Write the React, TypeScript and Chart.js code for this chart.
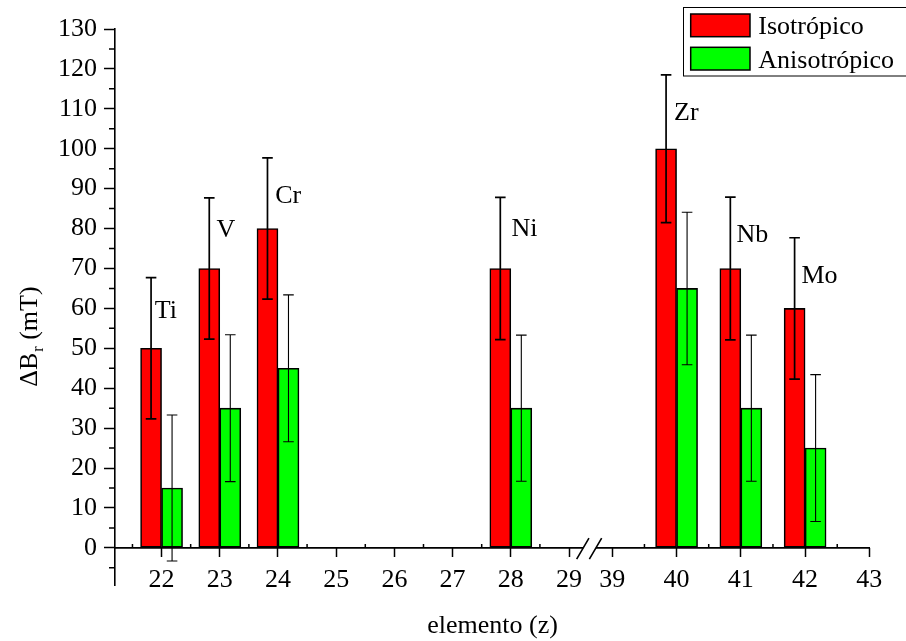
import React, { useEffect, useRef } from 'react';
import { Chart, registerables } from 'chart.js';

Chart.register(...registerables);

// ---------- data ----------
const elementNames = ['Ti', 'V', 'Cr', 'Ni', 'Zr', 'Nb', 'Mo'];
const atomicNumbers = [22, 23, 24, 28, 40, 41, 42];
const isotropic = [50, 70, 80, 70, 100, 70, 60];
const isotropicErr = [17.7, 17.7, 17.7, 17.8, 18.5, 17.9, 17.7];
const anisotropic = [15, 35, 45, 35, 65, 35, 25];
const anisotropicErr = [18.3, 18.4, 18.4, 18.3, 19.1, 18.3, 18.4];
const seriesNames = ['Isotrópico', 'Anisotrópico'];
const seriesColors = ['#ff0000', '#00ff00'];
// element-name annotations, anchored in data units (z, ΔBr)
const labelAtZ = [21.885, 22.943, 23.952, 28.01, 39.96, 40.932, 41.943];
const labelAtY = [57.7, 77.8, 86.4, 78.1, 107.1, 76.7, 66.3];
// axes
const xTickValues = [22, 23, 24, 25, 26, 27, 28, 29, 39, 40, 41, 42, 43];
const xMinorTicks = [21.5, 22.5, 23.5, 24.5, 25.5, 26.5, 27.5, 28.5, 39.5, 40.5, 41.5, 42.5];
const yTickValues = [0, 10, 20, 30, 40, 50, 60, 70, 80, 90, 100, 110, 120, 130];
const yMinorTicks = [-5, 5, 15, 25, 35, 45, 55, 65, 75, 85, 95, 105, 115, 125];
const X_MIN = 21.2;
const X_MAX = 43.01;
const Y_MIN = -9.3;
const Y_MAX = 130;
const xTitle = 'elemento (z)';

// ---------- broken x axis (29 // 39) ----------
const BREAK_LEFT = 29;
const BREAK_RIGHT = 39;
const BREAK_GAP = 0.744;
const RIGHT_STRETCH = 1.104;
const toAxis = (z: number) =>
  z <= BREAK_LEFT + 0.5 ? z : BREAK_LEFT + BREAK_GAP + (z - BREAK_RIGHT) * RIGHT_STRETCH;

const FONT = "'Liberation Serif', 'Times New Roman', serif";

const errorBarPlugin = {
  id: 'errorBars',
  afterDatasetsDraw(chart: any) {
    const { ctx } = chart;
    const yScale = chart.scales.y;
    const errSets = [isotropicErr, anisotropicErr];
    const valSets = [isotropic, anisotropic];
    const widths = [1.7, 1.1];
    ctx.save();
    ctx.strokeStyle = '#000';
    for (let d = 0; d < 2; d++) {
      const meta = chart.getDatasetMeta(d);
      ctx.lineWidth = widths[d];
      meta.data.forEach((bar: any, j: number) => {
        const v = valSets[d][j];
        const e = errSets[d][j];
        const top = yScale.getPixelForValue(v + e);
        const bot = yScale.getPixelForValue(v - e);
        const x = bar.x;
        ctx.beginPath();
        ctx.moveTo(x, top);
        ctx.lineTo(x, bot);
        ctx.moveTo(x - 5.3, top);
        ctx.lineTo(x + 5.3, top);
        ctx.moveTo(x - 5.3, bot);
        ctx.lineTo(x + 5.3, bot);
        ctx.stroke();
      });
    }
    // element labels
    const xScale = chart.scales.x;
    ctx.fillStyle = '#000';
    ctx.font = `26px ${FONT}`;
    ctx.textAlign = 'left';
    ctx.textBaseline = 'alphabetic';
    elementNames.forEach((name, i) => {
      ctx.fillText(name, xScale.getPixelForValue(toAxis(labelAtZ[i])), yScale.getPixelForValue(labelAtY[i]));
    });
    ctx.restore();
  },
};

const axisPlugin = {
  id: 'brokenAxis',
  afterDatasetsDraw(chart: any) {
    const { ctx, chartArea } = chart;
    const xs = chart.scales.x;
    const ys = chart.scales.y;
    const y0 = ys.getPixelForValue(0);
    const xl = xs.getPixelForValue(toAxis(BREAK_LEFT));
    const xr = xs.getPixelForValue(toAxis(BREAK_RIGHT));
    const mid = (xl + xr) / 2;
    ctx.save();
    ctx.strokeStyle = '#000';
    ctx.lineWidth = 1.6;
    ctx.beginPath();
    ctx.moveTo(chartArea.left, y0);
    ctx.lineTo(mid - 7.4, y0);
    ctx.moveTo(mid + 5.3, y0);
    ctx.lineTo(chartArea.right, y0);
    ctx.stroke();
    // break slashes
    ctx.lineWidth = 1.6;
    ctx.beginPath();
    ctx.moveTo(mid - 14, y0 + 11.3);
    ctx.lineTo(mid - 1.7, y0 - 9.7);
    ctx.moveTo(mid - 1.3, y0 + 11.3);
    ctx.lineTo(mid + 11, y0 - 9.7);
    ctx.stroke();
    // minor ticks
    ctx.lineWidth = 1.5;
    ctx.beginPath();
    xMinorTicks.forEach((z) => {
      const px = xs.getPixelForValue(toAxis(z));
      ctx.moveTo(px, y0);
      ctx.lineTo(px, y0 - 4);
    });
    yMinorTicks.forEach((v) => {
      const py = ys.getPixelForValue(v);
      ctx.moveTo(chartArea.left - 6, py);
      ctx.lineTo(chartArea.left, py);
    });
    ctx.stroke();
    ctx.restore();
  },
};

const titlesLegendPlugin = {
  id: 'titlesLegend',
  afterDraw(chart: any) {
    const { ctx, chartArea } = chart;
    ctx.save();
    ctx.fillStyle = '#000';
    // x title
    ctx.font = `26px ${FONT}`;
    ctx.textAlign = 'center';
    ctx.textBaseline = 'alphabetic';
    ctx.fillText(xTitle, (chartArea.left + chartArea.right) / 2, 632.7);
    // y title with subscript
    ctx.save();
    ctx.translate(36.7, 386.7);
    ctx.rotate(-Math.PI / 2);
    ctx.textAlign = 'left';
    ctx.font = `26px ${FONT}`;
    ctx.fillText('ΔB', 0, 0);
    let w = ctx.measureText('ΔB').width;
    ctx.font = `16px ${FONT}`;
    ctx.fillText('r', w + 1, 6.3);
    w += ctx.measureText('r').width + 1;
    ctx.font = `26px ${FONT}`;
    ctx.fillText(' (mT)', w, 0);
    ctx.restore();
    // legend
    ctx.lineWidth = 1;
    ctx.strokeStyle = '#000';
    ctx.fillStyle = '#fff';
    ctx.strokeRect(683.5, 7.5, 240, 68.5);
    const rows = [14, 47.3];
    const baselines = [34.3, 67.7];
    chart.data.datasets.forEach((ds: any, i: number) => {
      ctx.fillStyle = ds.backgroundColor;
      ctx.fillRect(690.7, rows[i], 59.3, 22.7);
      ctx.lineWidth = 1.5;
      ctx.strokeRect(690.7, rows[i], 59.3, 22.7);
      ctx.fillStyle = '#000';
      ctx.font = `26px ${FONT}`;
      ctx.textAlign = 'left';
      ctx.fillText(ds.label, 758.3, baselines[i]);
    });
    ctx.restore();
  },
};

export default function App() {
  const canvasRef = useRef<HTMLCanvasElement | null>(null);

  useEffect(() => {
    if (!canvasRef.current) return;
    const tickFont = { family: FONT, size: 26 };
    const chart = new Chart(canvasRef.current, {
      type: 'bar',
      data: {
        datasets: [isotropic, anisotropic].map((vals, d) => ({
          label: seriesNames[d],
          data: atomicNumbers.map((z, i) => ({ x: toAxis(z), y: vals[i] })),
          backgroundColor: seriesColors[d],
          borderColor: '#000',
          borderWidth: 1.6,
          borderSkipped: false,
          barThickness: 21,
        })),
      },
      options: {
        responsive: false,
        animation: false,
        devicePixelRatio: 1,
        layout: { padding: { top: 29, right: 36, bottom: 56, left: 0 } },
        plugins: { legend: { display: false }, tooltip: { enabled: false }, title: { display: false } },
        scales: {
          x: {
            type: 'linear',
            min: toAxis(X_MIN),
            max: toAxis(X_MAX),
            offset: false,
            position: { y: 0 },
            grid: {
              display: true,
              drawOnChartArea: false,
              drawTicks: true,
              tickLength: 9,
              tickWidth: 1.5,
              tickColor: '#000',
              offset: false,
            },
            border: { display: false },
            ticks: {
              font: tickFont,
              color: '#000',
              padding: 8,
              autoSkip: false,
              maxRotation: 0,
              callback: (_v: any, i: number) => String(xTickValues[i]),
            },
            afterBuildTicks: (s: any) => {
              s.ticks = xTickValues.map((z) => ({ value: toAxis(z) }));
            },
          } as any,
          y: {
            type: 'linear',
            min: Y_MIN,
            max: Y_MAX,
            position: 'left',
            grid: {
              display: true,
              drawOnChartArea: false,
              drawTicks: true,
              tickLength: 11,
              tickWidth: 1.5,
              tickColor: '#000',
            },
            border: { display: true, color: '#000', width: 1.6 },
            ticks: { font: tickFont, color: '#000', padding: 7, autoSkip: false },
            afterBuildTicks: (s: any) => {
              s.ticks = yTickValues.map((v) => ({ value: v }));
            },
            afterFit: (s: any) => {
              s.width = 115;
            },
          } as any,
        },
      },
      plugins: [errorBarPlugin, axisPlugin, titlesLegendPlugin],
    });
    return () => chart.destroy();
  }, []);

  return (
    <div style={{ position: 'fixed', left: 0, top: 0, width: 906, height: 641, background: '#fff' }}>
      <canvas ref={canvasRef} width={906} height={641} style={{ display: 'block' }} />
    </div>
  );
}
